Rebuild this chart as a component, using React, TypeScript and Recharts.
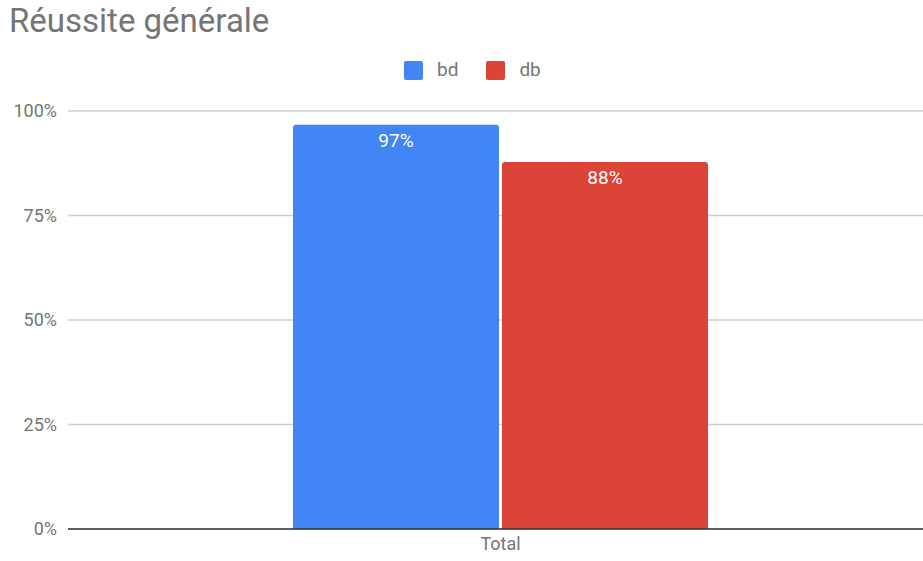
import React from 'react';
import { BarChart, Bar, XAxis, YAxis, CartesianGrid, LabelList } from 'recharts';

// Chart data
const categories = ['Total'];
const bdValues = [96.7];
const dbValues = [87.8];
const yTicks = [0, 25, 50, 75, 100];

const seriesList = [
    { key: 'bd', name: 'bd', color: '#4285F4', values: bdValues },
    { key: 'db', name: 'db', color: '#DB4437', values: dbValues },
];

const data = categories.map((cat, i) => ({
    name: cat,
    bd: bdValues[i],
    db: dbValues[i],
}));

const font = 'Roboto, "Noto Sans", sans-serif';
const textGray = '#757575';

export default function App() {
    return (
        <div style={{ position: 'fixed', left: 0, top: 0, width: 923, height: 561, overflow: 'hidden', background: '#fff', fontFamily: font }}>
            {/* Title */}
            <div style={{ position: 'absolute', left: 9, top: 1, fontSize: 33, color: textGray, lineHeight: '40px' }}>
                Réussite générale
            </div>

            {/* Legend */}
            <div style={{ position: 'absolute', top: 60, left: 404, display: 'flex', alignItems: 'center' }}>
                {seriesList.map((s) => (
                    <div key={s.key} style={{ display: 'flex', alignItems: 'center', marginRight: 28 }}>
                        <span style={{ display: 'inline-block', width: 19, height: 19, borderRadius: 2, background: s.color }} />
                        <span style={{ marginLeft: 14, fontSize: 19, color: textGray, lineHeight: '20px' }}>{s.name}</span>
                    </div>
                ))}
            </div>

            <div style={{ position: 'absolute', left: 0, top: 0 }}>
                <BarChart
                    width={933}
                    height={561}
                    data={data}
                    margin={{ top: 111, right: 0, bottom: 0, left: 0 }}
                    barSize={206}
                    barGap={3}
                >
                    <CartesianGrid vertical={false} stroke="#cccccc" strokeWidth={1.5} />
                    <XAxis
                        dataKey="name"
                        height={32}
                        axisLine={{ stroke: '#333333', strokeWidth: 1.5 }}
                        tickLine={false}
                        tick={{ fill: textGray, fontSize: 18, fontFamily: font }}
                        tickMargin={2}
                    />
                    <YAxis
                        width={68}
                        domain={[0, 100]}
                        ticks={yTicks}
                        axisLine={false}
                        tickLine={false}
                        tickMargin={5}
                        tickFormatter={(v: number) => `${v}%`}
                        tick={{ fill: textGray, fontSize: 18, fontFamily: font }}
                    />
                    {seriesList.map((s) => (
                        <Bar key={s.key} dataKey={s.key} name={s.name} fill={s.color} radius={[3, 3, 0, 0]} isAnimationActive={false}>
                            <LabelList
                                dataKey={s.key}
                                position="insideTop"
                                offset={9}
                                fill="#ffffff"
                                fontSize={19}
                                fontFamily={font}
                                formatter={(v: any) => `${Math.round(Number(v))}%`}
                            />
                        </Bar>
                    ))}
                </BarChart>
            </div>
        </div>
    );
}
